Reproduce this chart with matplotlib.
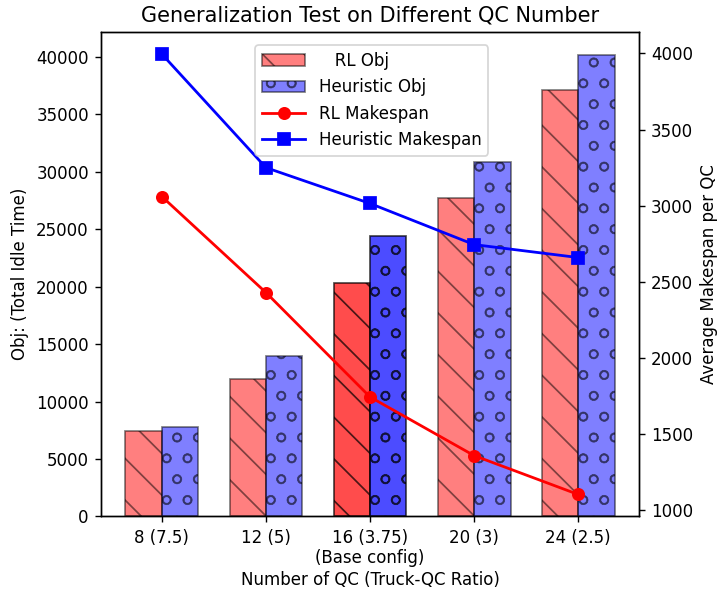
import numpy as np
import matplotlib
matplotlib.use("Agg")
import matplotlib.pyplot as plt

# values
qc_labels = ["8 (7.5)", "12 (5)", "16 (3.75)\n(Base config)", "20 (3)", "24 (2.5)"]
rl_obj = [7450, 12000, 20300, 27700, 37150]
heuristic_obj = [7750, 13950, 24400, 30880, 40150]
rl_makespan = [3060, 2430, 1745, 1360, 1105]
heuristic_makespan = [3995, 3250, 3015, 2745, 2660]
base_idx = 2

DPI = 125
plt.rcParams["font.size"] = 9.6

x = np.arange(len(qc_labels))
width = 0.35

fig, ax = plt.subplots(figsize=(718 / DPI, 595 / DPI), dpi=DPI)
fig.subplots_adjust(left=0.1407, right=0.89, top=0.946, bottom=0.132)

alphas = [0.7 if i == base_idx else 0.5 for i in range(len(x))]

rl_bars = ax.bar(x - width / 2, rl_obj, width, color="red", edgecolor="black",
                 hatch="\\", label="   RL Obj")
h_bars = ax.bar(x + width / 2, heuristic_obj, width, color="blue", edgecolor="black",
                hatch="o", label="Heuristic Obj")
for bars in (rl_bars, h_bars):
    for rect, a in zip(bars.patches, alphas):
        rect.set_alpha(a)

ax.set_ylabel("Obj: (Total Idle Time)")
ax.set_xlabel("Number of QC (Truck-QC Ratio)", labelpad=2)
ax.set_xticks(x)
ax.set_xticklabels(qc_labels)
ax.set_title("Generalization Test on Different QC Number", fontsize=12)

ax2 = ax.twinx()
l1, = ax2.plot(x, rl_makespan, "-o", color="red", lw=1.6, ms=6.5, label="RL Makespan")
l2, = ax2.plot(x, heuristic_makespan, "-s", color="blue", lw=1.6, ms=6.5, label="Heuristic Makespan")
ax2.set_ylabel("Average Makespan per QC")

handles = [rl_bars, h_bars, l1, l2]
ax2.legend(handles, [h.get_label() for h in handles], loc="upper center",
           bbox_to_anchor=(0.503, 0.99), handlelength=2.6)

plt.savefig("out.png", dpi=DPI)
